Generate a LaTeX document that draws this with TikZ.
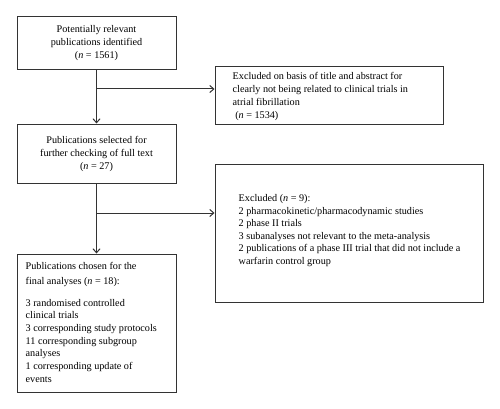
\documentclass[tikz,border=0pt]{standalone}
\usepackage{fontspec}
\setmainfont{Liberation Serif}
\usetikzlibrary{arrows.meta}
\definecolor{lc}{HTML}{333333}
\tikzset{
  box/.style={draw=lc, line width=1pt, inner sep=0pt, font=\fontsize{10.2}{13}\selectfont},
  txt/.style={inner sep=0pt, anchor=west, align=left, text=black},
  conn/.style={draw=lc, line width=1pt, -{Straight Barb[length=4pt,width=7pt]}},
}
\begin{document}
\begin{tikzpicture}[x=1pt,y=-1pt]
\useasboundingbox (0,0) rectangle (500,409);
\node[box, minimum width=159pt, minimum height=53pt, align=center] (b1) at (96.5,43.5)
  {Potentially relevant\\publications identified\\(\textit{n} = 1561)};
\node[box, minimum width=228pt, minimum height=57pt] (b2) at (329,95.5) {};
\node[txt, font=\fontsize{10.2}{13}\selectfont, xshift=18pt, yshift=-0.5pt] (t2) at (b2.west)
  {Excluded on basis of title and abstract for\\clearly not being related to clinical trials in\\atrial fibrillation\\\ (\textit{n} = 1534)};
\node[box, minimum width=159pt, minimum height=59pt, align=center] (b3) at (96.5,153.5)
  {Publications selected for\\further checking of full text\\(\textit{n} = 27)};
\node[box, minimum width=268pt, minimum height=138pt] (b4) at (349,233) {};
\node[txt, font=\fontsize{10.2}{12.6}\selectfont, xshift=24pt, yshift=2.5pt] (t4) at (b4.west)
  {Excluded (\textit{n} = 9):\\2 pharmacokinetic/pharmacodynamic studies\\2 phase II trials\\3 subanalyses not relevant to the meta-analysis\\2 publications of a phase III trial that did not include a\\warfarin control group};
\node[box, minimum width=159pt, minimum height=138pt] (b5) at (96.5,323) {};
\node[txt, font=\fontsize{10.2}{12.7}\selectfont, xshift=9pt, yshift=0.5pt] (t5) at (b5.west)
  {Publications chosen for the\\[2pt]final analyses (\textit{n} = 18):\\[9pt]3 randomised controlled\\clinical trials\\3 corresponding study protocols\\11 corresponding subgroup\\analyses\\1 corresponding update of\\events};
\coordinate (j1) at (96.5,89);
\coordinate (j2) at (96.5,213);
\draw[conn] (b1.south) -- (b3.north);
\draw[conn] (j1) -- (j1 -| b2.west);
\draw[conn] (b3.south) -- (b5.north);
\draw[conn] (j2) -- (j2 -| b4.west);
\end{tikzpicture}
\end{document}
